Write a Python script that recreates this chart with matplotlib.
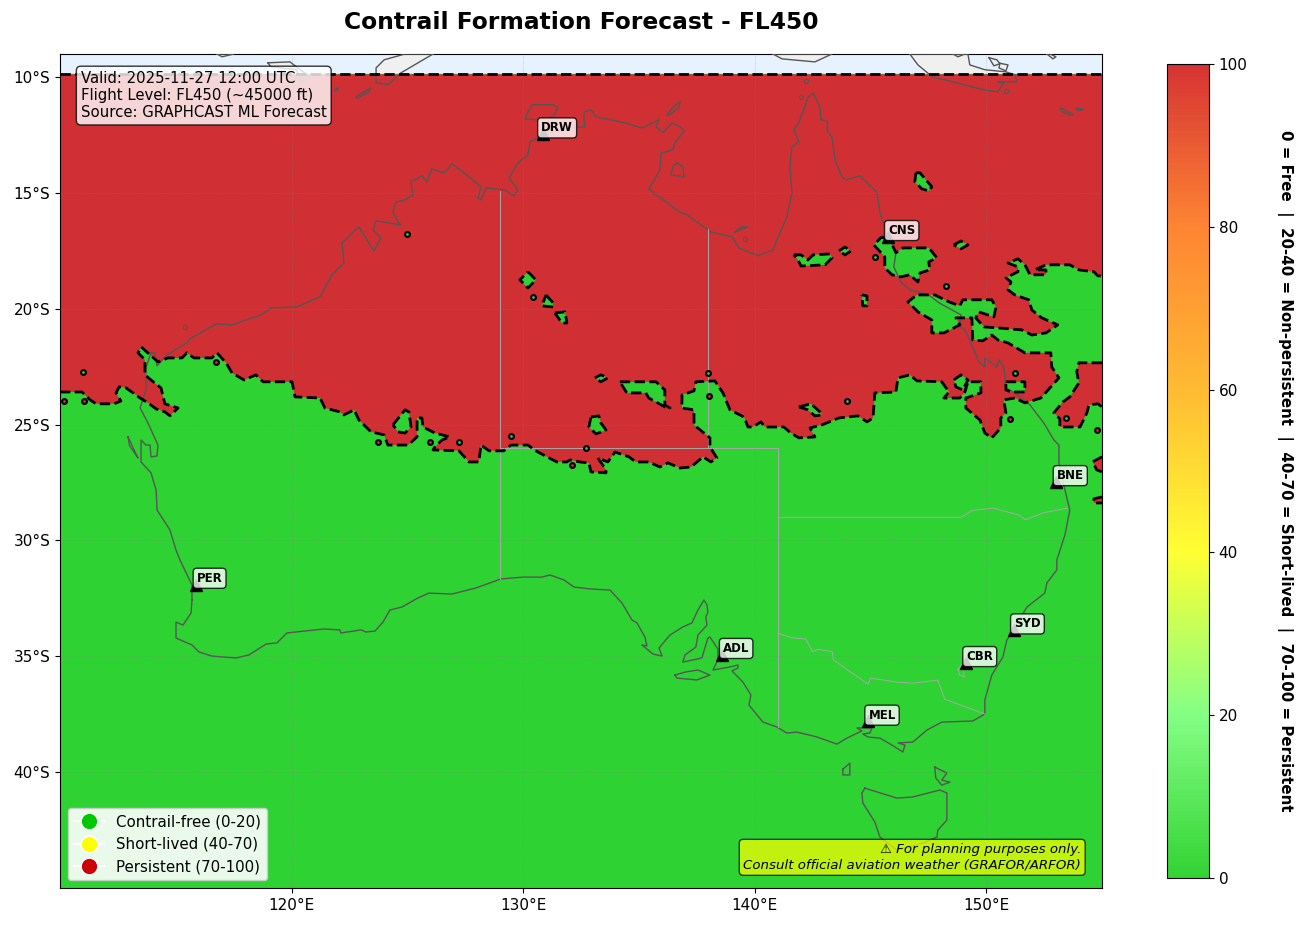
import matplotlib
matplotlib.use("Agg")
import matplotlib.pyplot as plt
from matplotlib.colors import LinearSegmentedColormap, Normalize
from matplotlib.cm import ScalarMappable
from matplotlib.lines import Line2D

## Map window and forecast field limits
lon_min, lon_max = 110, 155
lat_min, lat_max = -45, -9
field_top = -9.875

lon_ticks = [120, 130, 140, 150]
lat_ticks = [-10, -15, -20, -25, -30, -35, -40]

## Coastlines (lon, lat)
mainland = [(115.70,-32.57),(115.66,-33.13),(115.31,-33.65),(115.01,-33.52),(115.01,-34.21),(115.70,-34.51),
(116.00,-34.81),(116.56,-34.99),(117.60,-35.07),(118.16,-34.94),(118.90,-34.47),(119.37,-34.42),(119.80,-33.99),
(120.54,-33.91),(121.40,-33.82),(122.09,-33.86),(122.13,-33.99),(123.00,-33.86),(123.21,-33.95),(123.60,-33.91),
(123.95,-33.52),(124.25,-33.00),(124.77,-32.87),(125.46,-32.48),(125.93,-32.27),(126.93,-32.31),(127.96,-32.05),
(129.04,-31.66),(129.99,-31.58),(130.81,-31.58),(131.16,-31.49),(131.76,-31.70),(132.20,-32.01),(132.89,-32.09),
(133.75,-32.14),(134.27,-32.70),(134.70,-33.43),(134.92,-33.56),(135.26,-34.17),(135.35,-34.55),(135.13,-34.51),
(135.61,-34.90),(136.00,-34.99),(135.87,-34.64),(136.34,-34.08),(136.90,-33.73),(137.29,-33.56),(137.55,-33.00),
(137.81,-32.57),(137.94,-32.78),(137.98,-33.09),(137.89,-33.30),(137.94,-33.65),(137.55,-34.08),(137.46,-34.60),
(136.99,-34.94),(136.90,-35.25),(137.72,-35.07),(137.98,-34.21),(138.07,-34.17),(138.41,-34.68),(138.41,-35.16),
(138.20,-35.59),(138.93,-35.46),(139.28,-35.37),(139.28,-35.50),(139.02,-35.63),(139.49,-36.11),(139.84,-36.67),
(139.75,-37.10),(140.36,-37.84),(140.96,-38.05),(141.39,-38.31),(141.83,-38.27),(142.69,-38.48),(143.55,-38.79),
(143.98,-38.53),(144.63,-38.22),(144.42,-38.09),(144.67,-38.09),(145.06,-38.09),(144.98,-38.31),(144.67,-38.35),
(144.89,-38.48),(145.41,-38.53),(145.93,-38.83),(146.27,-39.05),(146.40,-39.13),(146.49,-38.83),(146.19,-38.74),
(146.83,-38.70),(147.44,-38.18),(148.08,-37.84),(149.42,-37.79),(149.94,-37.49),(149.94,-36.89),(150.24,-35.81),
(150.72,-35.03),(150.89,-34.30),(151.11,-33.95),(151.76,-32.87),(152.53,-32.27),(152.62,-31.83),(153.05,-31.27),
(153.05,-30.84),(153.40,-29.76),(153.61,-28.68),(153.40,-27.82),(153.14,-26.65),(153.14,-25.88),(152.92,-25.66),
(152.49,-24.93),(151.89,-24.15),(151.24,-23.63),(150.85,-23.41),(150.76,-22.51),(150.55,-22.20),(150.46,-22.51),
(149.94,-22.12),(149.94,-22.51),(149.68,-22.29),(149.42,-21.64),(149.08,-20.91),(148.86,-20.78),(148.91,-20.26),
(147.96,-19.74),(147.52,-19.40),(146.70,-19.18),(146.31,-18.84),(146.01,-18.19),(146.10,-17.58),(145.71,-16.72),
(145.41,-15.86),(145.28,-14.95),(144.54,-14.26),(143.94,-14.43),(143.77,-14.30),(143.47,-13.57),(143.34,-12.58),
(143.12,-12.29),(143.16,-11.93),(142.86,-11.84),(142.82,-11.28),(142.52,-10.68),(142.30,-10.89),(141.91,-11.97),
(141.69,-12.27),(141.91,-12.79),(141.61,-13.01),(141.52,-13.87),(141.61,-14.99),(141.39,-16.03),(140.96,-17.02),
(140.79,-17.46),(140.14,-17.71),(139.32,-17.37),(139.02,-16.89),(138.11,-16.68),(137.07,-15.94),(136.73,-15.81),
(136.47,-15.60),(135.74,-15.08),(135.43,-14.82),(135.91,-14.00),(135.95,-13.27),(136.47,-13.14),(136.56,-12.83),
(136.95,-12.32),(136.77,-12.14),(136.43,-11.97),(136.04,-12.40),(135.74,-12.14),(135.87,-11.84),(135.13,-12.19),
(134.40,-11.97),(133.15,-11.71),(132.93,-11.41),(132.63,-11.50),(132.63,-11.84),(132.67,-12.14),(132.02,-12.19),
(131.37,-12.32),(130.73,-12.58),(130.30,-12.79),(130.21,-13.35),(129.78,-13.70),(129.39,-14.35),(129.78,-14.86),
(129.60,-15.12),(129.17,-14.86),(128.40,-14.78),(128.18,-15.30),(128.05,-15.21),(128.18,-14.73),(127.66,-14.30),
(126.93,-13.74),(126.58,-14.13),(126.06,-13.96),(125.85,-14.52),(125.63,-14.26),(125.16,-14.52),(125.24,-15.08),
(124.90,-15.30),(124.51,-15.38),(124.38,-15.81),(124.60,-16.25),(124.73,-16.38),(124.16,-16.29),(123.65,-16.20),
(123.52,-16.59),(123.86,-16.94),(123.56,-17.50),(122.91,-16.46),(122.18,-17.15),(122.26,-18.02),(121.75,-18.53),
(121.23,-19.48),(120.23,-19.92),(119.11,-19.96),(118.68,-20.26),(117.43,-20.69),(116.74,-20.65),(115.61,-21.30),
(115.53,-21.43),(114.62,-21.99),(114.19,-22.46),(114.10,-21.90),(113.93,-21.90),(113.71,-22.55),(113.71,-23.50),
(113.46,-24.28),(113.80,-24.93),(114.23,-25.88),(114.19,-26.35),(113.93,-26.39),(113.89,-25.88),(113.71,-25.88),
(113.50,-25.66),(113.50,-26.61),(113.93,-27.08),(114.15,-27.82),(114.19,-28.68),(114.75,-29.55),(115.01,-30.41),
(115.18,-30.84),(115.70,-31.92),(115.70,-32.57)]

tasmania = [(144.76,-40.69),(146.14,-41.12),(146.83,-41.07),(148.00,-40.77),(148.30,-40.90),(148.30,-42.07),(147.91,-42.50),
(147.87,-42.80),(147.27,-43.06),(146.14,-43.36),(145.41,-42.80),(145.19,-42.15),(144.67,-41.33),(144.63,-40.90),(144.76,-40.69)]
islands = [
    [(130.42,-11.19),(131.29,-11.19),(131.50,-11.32),(131.29,-11.71),(130.68,-11.84),(130.08,-11.80),(130.25,-11.41),(130.42,-11.19)],
    [(136.64,-13.70),(136.90,-13.87),(136.95,-14.30),(136.38,-14.22),(136.47,-13.87),(136.64,-13.70)],
    [(136.77,-11.06),(136.73,-11.32),(136.25,-11.67),(136.21,-11.63),(136.47,-11.32),(136.77,-11.06)],
    [(139.15,-16.68),(139.71,-16.46),(139.41,-16.46),(139.15,-16.68)],
    [(136.56,-35.81),(136.99,-35.68),(137.55,-35.59),(138.07,-35.81),(137.50,-36.02),(136.64,-35.94),(136.56,-35.81)],
    [(143.81,-39.87),(144.11,-39.61),(144.11,-40.12),(143.81,-40.12),(143.81,-39.87)],
    [(147.78,-39.78),(148.30,-40.04),(148.08,-40.34),(148.43,-40.43),(148.08,-40.56),(147.82,-40.25),(147.78,-39.78)],
    [(112.94,-25.53),(113.20,-26.09),(113.37,-26.44),(113.00,-25.90),(112.94,-25.53)],
    [(153.22,-11.32),(153.74,-11.63),(153.60,-11.65),(153.20,-11.45),(153.22,-11.32)],
    [(153.90,-11.35),(154.20,-11.37),(154.00,-11.45),(153.90,-11.35)],
]
islets = [(115.40,-20.78),(142.20,-10.16),(150.85,-10.59),(142.00,-10.85),(139.60,-17.00)]

## Land poking into the strip north of the field
north_land = [
    [(146.70,-9.00),(147.05,-9.47),(147.57,-9.90),(147.65,-9.98),(148.39,-10.16),(149.90,-10.55),(150.50,-10.63),(150.76,-10.24),
     (150.50,-10.20),(151.32,-10.20),(151.24,-9.90),(150.85,-9.77),(149.94,-9.68),(149.29,-9.47),(149.21,-9.00)],
    [(140.79,-9.00),(141.18,-9.21),(142.60,-9.34),(143.34,-9.00)],
    [(150.12,-9.16),(150.33,-9.51),(150.59,-9.42),(150.46,-9.25)],
    [(150.59,-9.40),(150.94,-9.47),(150.85,-9.73),(150.55,-9.60)],
    [(152.62,-9.00),(152.88,-9.21),(153.01,-9.12),(152.75,-9.00)],
    [(148.56,-9.00),(148.78,-9.12),(149.08,-9.00)],
    [(126.11,-9.00),(124.73,-9.81),(124.16,-10.33),(123.65,-10.24),(123.65,-9.60),(124.00,-9.25),(124.90,-9.00)],
    [(122.78,-10.85),(123.43,-10.46),(123.34,-10.63),(122.85,-10.90)],
    [(121.87,-10.55),(122.00,-10.46),(122.02,-10.55)],
    [(118.98,-9.38),(119.93,-9.34),(120.80,-10.00),(120.37,-10.24),(120.23,-9.68),(119.10,-9.55)],
    [(116.78,-9.00),(117.00,-9.12),(117.51,-9.00)],
]

## State borders
borders = [
    [(129.0,-14.9),(129.0,-31.66)],
    [(138.0,-16.55),(138.0,-26.0)],
    [(129.0,-26.0),(141.0,-26.0),(141.0,-38.05)],
    [(141.0,-29.0),(148.9,-29.0),(149.4,-28.7),(150.3,-28.6),(151.4,-28.9),(151.7,-29.1),(152.5,-28.8),(153.5,-28.6)],
    [(141.0,-34.0),(141.6,-34.2),(142.2,-34.25),(142.5,-34.8),(142.75,-34.7),(143.35,-34.8),(143.4,-35.15),(144.42,-35.87),
     (144.9,-36.2),(145.0,-35.94),(146.14,-36.11),(146.83,-36.16),(147.91,-36.03),(148.21,-36.85),(149.94,-37.49)],
    [(148.78,-35.55),(149.0,-35.3),(149.05,-35.9),(148.85,-35.8),(148.78,-35.55)],
]

## Forecast field: 0 = free (green), 100 = persistent (red). Edge of the red area, west to east
red_edge = [(110.00,-23.59),(110.95,-23.59),(111.30,-23.93),(111.56,-24.10),(112.33,-24.10),(112.63,-23.98),(112.42,-23.63),
(112.55,-23.37),(112.85,-23.41),(113.46,-23.85),(113.80,-24.06),(114.15,-24.32),(114.53,-24.45),(114.75,-24.62),(115.10,-24.28),
(114.53,-24.10),(114.36,-23.41),(113.93,-23.07),(113.67,-22.85),(113.67,-22.20),(113.37,-21.90),(113.50,-21.64),(114.23,-22.29),
(114.66,-22.12),(115.27,-22.12),(115.48,-21.90),(115.79,-22.12),(116.56,-22.12),(116.78,-21.90),(117.17,-22.33),(117.43,-22.77),
(117.95,-23.07),(118.46,-22.85),(118.77,-23.15),(120.02,-23.15),(120.15,-23.80),(121.23,-23.85),(121.44,-24.28),(122.09,-24.45),
(122.26,-24.58),(122.70,-24.36),(122.91,-24.80),(123.43,-25.31),(123.99,-25.44),(124.16,-25.88),(125.03,-25.88),(125.42,-25.53),
(125.42,-24.71),(125.63,-24.71),(125.67,-25.10),(126.19,-25.36),(126.84,-25.53),(126.50,-25.66),(126.19,-25.96),(126.11,-26.09),
(127.23,-26.13),(127.66,-26.61),(128.09,-26.61),(128.18,-25.88),(128.53,-26.13),(129.17,-26.13),(129.47,-25.88),(130.21,-25.88),
(130.55,-26.13),(131.03,-26.39),(131.46,-26.61),(131.89,-26.61),(132.02,-26.52),(132.45,-26.61),(132.84,-26.65),(132.93,-27.04),
(133.58,-27.08),(133.58,-26.95),(133.23,-26.44),(133.66,-26.61),(133.97,-26.18),(134.57,-26.39),(134.87,-26.61),(135.43,-26.61),
(135.91,-26.83),(136.25,-26.65),(136.77,-26.87),(137.25,-26.83),(137.77,-26.39),(138.11,-26.61),(138.37,-26.44),(138.07,-25.96),
(138.07,-25.57),(137.38,-25.01),(137.38,-24.36),(136.86,-24.28),(136.86,-23.72),(137.38,-23.54),(137.46,-23.15),(138.28,-23.11),
(138.63,-23.63),(138.93,-24.36),(139.54,-24.67),(139.71,-25.10),(139.92,-25.10),(140.27,-24.88),(140.44,-25.10),(141.26,-25.10),
(141.56,-25.36),(141.91,-25.57),(142.60,-25.53),(142.39,-25.14),(142.90,-25.01),(143.64,-24.71),(144.46,-24.62),(144.85,-24.88),
(145.11,-24.71),(145.19,-23.63),(146.10,-23.59),(146.19,-22.98),(146.70,-22.85),(147.01,-23.11),(148.08,-23.15),(148.39,-23.59),
(148.17,-23.85),(148.86,-23.85),(149.08,-23.59),(149.21,-23.15),(149.77,-23.15),(149.77,-23.63),(149.12,-23.85),(149.12,-24.28),
(149.73,-24.80),(149.94,-25.36),(150.24,-25.57),(150.63,-25.14),(150.63,-24.71),(150.85,-24.49),(150.76,-23.93),(151.24,-23.85),
(151.67,-24.06),(152.36,-23.85),(153.14,-22.98),(152.83,-22.51),(152.79,-21.90),(151.67,-21.90),(150.94,-21.47),(150.50,-21.34),
(150.24,-21.13),(149.85,-21.38),(149.42,-21.34),(149.38,-20.39),(148.69,-20.39),(148.86,-20.69),(148.17,-21.04),(147.65,-21.04),
(147.65,-20.48),(147.05,-20.13),(146.62,-19.70),(147.01,-19.40),(147.78,-19.40),(148.39,-19.70),(148.86,-19.87),(148.99,-19.61),
(150.24,-19.61),(150.42,-19.92),(150.33,-20.35),(149.68,-20.13),(149.55,-20.39),(149.90,-20.78),(150.46,-20.82),(151.54,-20.91),
(151.97,-21.13),(152.58,-21.04),(153.09,-20.69),(152.40,-20.39),(151.97,-20.05),(151.84,-19.61),(151.24,-19.40),(150.94,-19.18),
(151.07,-18.84),(150.85,-18.66),(151.37,-18.40),(151.37,-18.19),(150.94,-18.02),(151.37,-17.84),(151.67,-18.10),(151.89,-18.53),
(152.58,-18.53),(152.58,-18.32),(152.10,-18.32),(152.58,-18.10),(153.61,-18.10),(154.00,-18.32),(154.65,-18.40),(154.82,-18.58),
(155.00,-18.58)]

red_east = [(155.00,-22.33),(154.00,-22.33),(153.91,-22.72),(154.00,-23.20),(153.61,-23.80),(153.31,-24.02),(152.92,-24.49),
(153.18,-24.75),(153.18,-25.10),(154.05,-25.10),(154.35,-24.49),(154.43,-24.15),(154.82,-24.10),(155.00,-24.23)]
red_edge_cells = [
    [(155.00,-26.39),(154.60,-26.60),(154.77,-26.95),(155.00,-27.04)],
    [(155.00,-28.12),(154.65,-28.20),(154.65,-28.38),(155.00,-28.38)],
]

green_patches = [
    [(130.21,-18.40),(130.55,-18.75),(130.21,-19.10),(129.86,-18.75)],
    [(130.99,-19.40),(131.29,-19.74),(131.29,-19.92),(130.81,-19.87)],
    [(131.37,-20.18),(131.81,-20.13),(131.89,-20.61),(131.68,-20.61)],
    [(146.96,-14.13),(147.14,-14.13),(147.65,-14.73),(147.52,-14.91),(147.22,-14.82),(146.92,-14.52)],
    [(145.49,-16.89),(145.88,-17.11),(146.10,-17.58),(146.40,-17.37),(147.52,-17.37),(147.87,-17.80),(147.52,-17.97),(147.56,-18.32),
     (147.14,-18.45),(147.05,-18.84),(146.70,-18.53),(146.31,-18.62),(145.93,-18.53),(145.62,-18.23),(145.62,-17.76),(145.15,-17.24)],
    [(148.60,-17.24),(148.91,-17.07),(149.21,-17.24),(148.91,-17.41)],
    [(141.69,-17.67),(142.00,-17.67),(142.30,-17.89),(142.52,-17.67),(143.25,-17.63),(143.34,-17.80),(143.04,-18.10),(142.00,-18.15),(141.87,-17.89)],
    [(143.64,-17.50),(143.90,-17.33),(144.16,-17.50),(143.90,-17.67)],
    [(144.63,-19.40),(144.85,-19.44),(144.85,-19.87),(144.67,-19.87)],
    [(133.10,-22.98),(133.36,-22.85),(133.66,-22.98),(133.36,-23.15)],
    [(134.18,-23.15),(135.74,-23.15),(136.12,-23.50),(136.12,-24.15),(136.34,-24.28),(136.21,-24.28),(135.43,-23.85),(135.30,-23.63),(134.48,-23.63)],
    [(132.93,-24.67),(133.27,-24.62),(133.36,-24.93),(133.58,-25.23),(133.15,-25.40),(132.84,-25.10)],
    [(141.91,-24.23),(142.43,-24.10),(142.82,-24.45),(142.90,-24.58),(142.60,-24.62),(142.30,-24.36)],
    [(148.60,-23.07),(148.91,-22.85),(149.21,-23.07),(148.99,-23.50),(148.69,-23.37)],
    [(150.85,-23.15),(151.67,-23.15),(151.67,-23.59),(151.07,-23.59),(150.85,-23.50)],
    [(124.38,-25.01),(124.90,-24.36),(125.07,-24.45),(125.16,-25.10),(124.90,-25.36),(124.60,-25.31)],
]
green_spots = [(124.97,-16.76),(130.42,-19.48),(110.99,-22.72),(145.19,-17.76),(148.26,-19.01),(137.98,-22.77),(143.98,-23.97),
               (151.24,-22.77),(129.47,-25.49),(127.23,-25.75),(132.71,-26.00),(153.44,-24.71)]
red_spots = [(138.03,-23.76),(111.04,-23.98),(123.73,-25.75),(125.98,-25.75),(116.74,-22.29),(151.02,-24.75),(154.77,-25.23),
             (110.17,-23.98),(132.11,-26.74)]

## Airports
city_names = ["DRW", "CNS", "BNE", "PER", "SYD", "CBR", "ADL", "MEL"]
city_lons = [130.87, 145.75, 153.03, 115.86, 151.18, 149.12, 138.60, 144.90]
city_lats = [-12.46, -16.89, -27.47, -31.90, -33.87, -35.28, -34.93, -37.81]

## Colours
cbar_colors = ["#00c800", "#66ff66", "#ffff00", "#ffaa00", "#ff6600", "#cc0000"]
field_red = "#d03033"
field_green = "#2fd233"
ocean = "#e6f2ff"
land = "#f0f0f0"
coast = "#555555"
info_lines = "Valid: 2025-11-27 12:00 UTC\nFlight Level: FL450 (~45000 ft)\nSource: GRAPHCAST ML Forecast"
warn_lines = "\u26a0 For planning purposes only.\nConsult official aviation weather (GRAFOR/ARFOR)"
cbar_label = "0 = Free  |  20-40 = Non-persistent  |  40-70 = Short-lived  |  70-100 = Persistent"


def xy(points):
    return [p[0] for p in points], [p[1] for p in points]


def closed(points):
    return points + [points[0]]


fig = plt.figure(figsize=(13.04, 9.26), dpi=100)
ax = fig.add_axes([60/1304, 38/926, 1042/1304, 834/926])
ax.set_facecolor(ocean)
ax.set_xlim(lon_min, lon_max)
ax.set_ylim(lat_min, lat_max)

## land north of the field, then the field on top
for part in north_land:
    x, y = xy(closed(part))
    ax.fill(x, y, color=land, zorder=1)

ax.fill([lon_min, lon_max, lon_max, lon_min], [lat_min, lat_min, field_top, field_top], color=field_green, zorder=2)
x, y = xy(red_edge + [(lon_max, field_top), (lon_min, field_top)])
ax.fill(x, y, color=field_red, lw=0, zorder=2)
for part in [red_east] + red_edge_cells:
    x, y = xy(part)
    ax.fill(x, y, color=field_red, lw=0, zorder=2)
for part in green_patches:
    x, y = xy(part)
    ax.fill(x, y, color=field_green, lw=0, zorder=2)

## coast and borders
for part in north_land + [mainland, tasmania] + islands:
    x, y = xy(part if part[0] == part[-1] else closed(part))
    ax.plot(x, y, color=coast, lw=1, zorder=3)
x, y = xy(islets)
ax.plot(x, y, ls="none", marker="o", ms=3, mfc="none", mec=coast, mew=0.8, zorder=3)
for part in borders:
    x, y = xy(part)
    ax.plot(x, y, color="#a8a8a8", lw=0.7, zorder=3)

## gridlines
for lon in lon_ticks:
    ax.plot([lon, lon], [lat_min, lat_max], color="gray", lw=0.5, ls=":", alpha=0.5, zorder=3)
for lat in lat_ticks:
    ax.plot([lon_min, lon_max], [lat, lat], color="gray", lw=0.5, ls=":", alpha=0.5, zorder=3)

## contour of the persistent region
ax.plot([lon_min, lon_max], [field_top, field_top], "k--", lw=2, zorder=4)
x, y = xy(red_edge)
ax.plot(x, y, "k--", lw=2, zorder=4)
for part in [red_east] + red_edge_cells:
    x, y = xy(part)
    ax.plot(x, y, "k--", lw=2, zorder=4)
for part in green_patches:
    x, y = xy(closed(part))
    ax.plot(x, y, "k--", lw=2, zorder=4)
x, y = xy(green_spots)
ax.plot(x, y, ls="none", marker="o", ms=3.5, mfc=field_green, mec="k", mew=1.5, zorder=4)
x, y = xy(red_spots)
ax.plot(x, y, ls="none", marker="o", ms=3.5, mfc=field_red, mec="k", mew=1.5, zorder=4)

## airports
ax.plot(city_lons, city_lats, ls="none", marker="^", ms=8, color="k", zorder=5)
for name, lon, lat in zip(city_names, city_lons, city_lats):
    ax.annotate(name, (lon, lat), xytext=(10, 4.5), textcoords="offset points", ha="center", va="center",
                fontsize=8.5, fontweight="bold", zorder=6,
                bbox=dict(boxstyle="round,pad=0.3", fc="white", ec="black", alpha=0.8))

## boxes
ax.text(0.02, 0.98, info_lines, transform=ax.transAxes, fontsize=10.75, va="top", ha="left", zorder=7,
        bbox=dict(boxstyle="round,pad=0.3", fc="white", ec="black", alpha=0.8))
ax.text(0.98, 0.02, warn_lines, transform=ax.transAxes, fontsize=9.6, style="italic", va="bottom", ha="right", zorder=7,
        bbox=dict(boxstyle="round,pad=0.3", fc="yellow", ec="black", alpha=0.7))

## legend
handles = [
    Line2D([0], [0], marker="o", color="w", markerfacecolor="#00c800", markersize=12, label="Contrail-free (0-20)"),
    Line2D([0], [0], marker="o", color="w", markerfacecolor="#ffff00", markersize=12, label="Short-lived (40-70)"),
    Line2D([0], [0], marker="o", color="w", markerfacecolor="#cc0000", markersize=12, label="Persistent (70-100)"),
]
leg = ax.legend(handles=handles, loc="lower left", fontsize=10.85, framealpha=0.9)
leg.set_zorder(7)

ax.set_xticks(lon_ticks)
ax.set_xticklabels([f"{v}°E" for v in lon_ticks], fontsize=11)
ax.set_yticks(lat_ticks)
ax.set_yticklabels([f"{-v}°S" for v in lat_ticks], fontsize=11)
ax.set_title("Contrail Formation Forecast - FL450", fontsize=16.8, fontweight="bold", pad=18)

## colour bar
cmap = LinearSegmentedColormap.from_list("contrail", cbar_colors, N=256)
cax = fig.add_axes([1167/1304, 48/926, 42/1304, 814/926])
cb = fig.colorbar(ScalarMappable(norm=Normalize(0, 100), cmap=cmap), cax=cax, alpha=0.8)
cb.set_ticks([0, 20, 40, 60, 80, 100])
cb.ax.tick_params(labelsize=11)
cb.set_label(cbar_label, rotation=270, fontsize=10.8, fontweight="bold", labelpad=33)

fig.savefig("out.png", dpi=100)
